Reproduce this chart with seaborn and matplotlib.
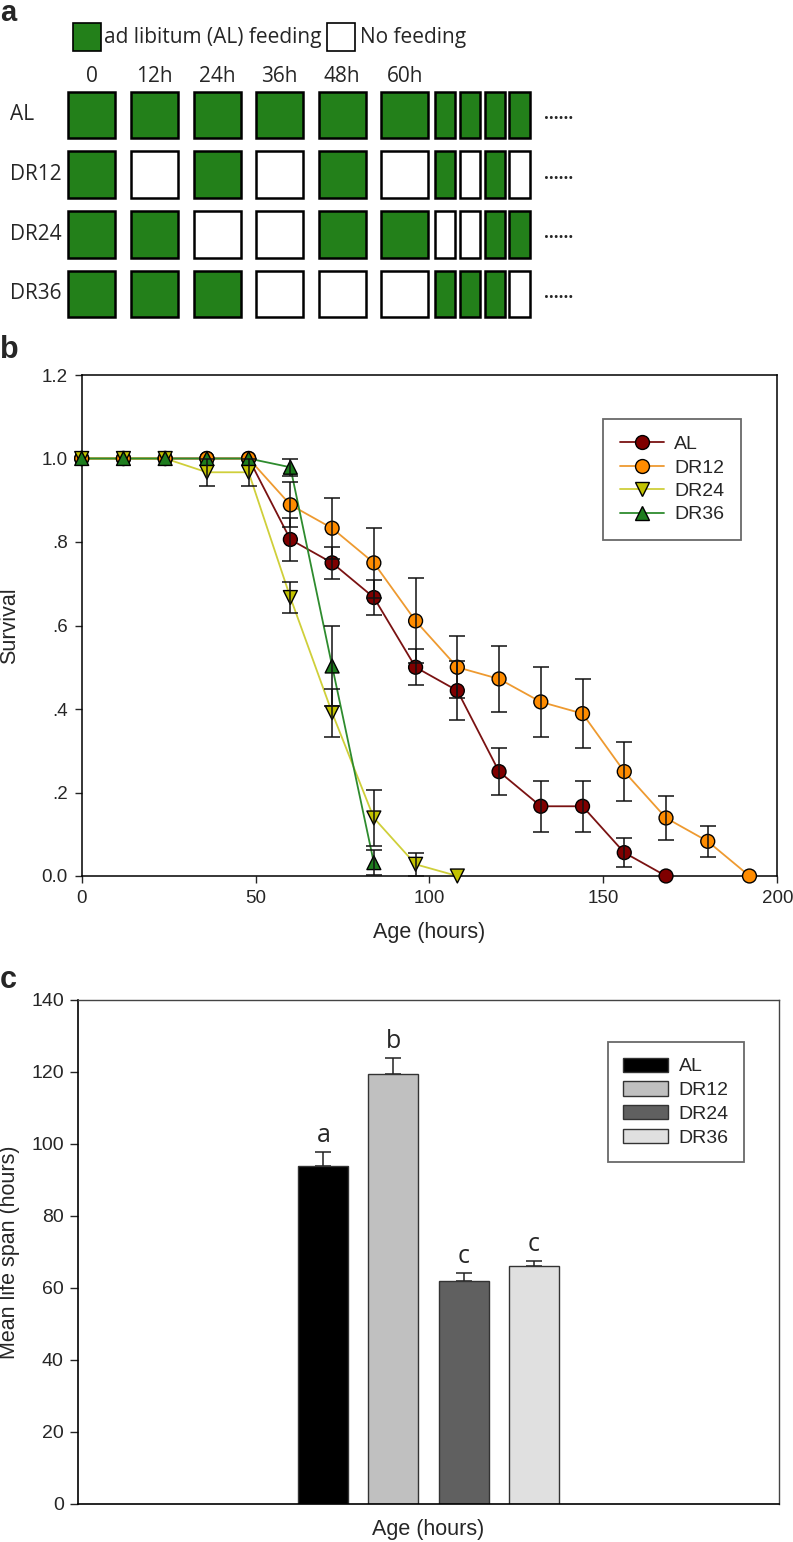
import numpy as np
import pandas as pd
import matplotlib
matplotlib.use('Agg')
import matplotlib.pyplot as plt
import seaborn as sns
from matplotlib.lines import Line2D

# ---------------- data ----------------
groups = ['AL', 'DR12', 'DR24', 'DR36']

# panel a: feeding schedule (1 = fed, 0 = not fed), 6 wide slots + 4 narrow slots
slot_labels = ['0', '12h', '24h', '36h', '48h', '60h']
schedule_AL = [1, 1, 1, 1, 1, 1, 1, 1, 1, 1]
schedule_DR12 = [1, 0, 1, 0, 1, 0, 1, 0, 1, 0]
schedule_DR24 = [1, 1, 0, 0, 1, 1, 0, 0, 1, 1]
schedule_DR36 = [1, 1, 1, 0, 0, 0, 1, 1, 1, 0]

# panel b: survival curves
age_AL = [0, 12, 24, 36, 48, 60, 72, 84, 96, 108, 120, 132, 144, 156, 168]
surv_AL = [1.0, 1.0, 1.0, 1.0, 1.0, 0.806, 0.750, 0.667, 0.500, 0.444, 0.250, 0.167, 0.167, 0.056, 0.0]
err_AL = [0, 0, 0, 0, 0, 0.051, 0.038, 0.042, 0.043, 0.070, 0.056, 0.061, 0.061, 0.035, 0]

age_DR12 = [0, 12, 24, 36, 48, 60, 72, 84, 96, 108, 120, 132, 144, 156, 168, 180, 192]
surv_DR12 = [1.0, 1.0, 1.0, 1.0, 1.0, 0.889, 0.833, 0.750, 0.611, 0.500, 0.472, 0.417, 0.389, 0.250, 0.139, 0.083, 0.0]
err_DR12 = [0, 0, 0, 0, 0, 0.054, 0.073, 0.083, 0.102, 0.074, 0.079, 0.083, 0.083, 0.070, 0.052, 0.037, 0]

age_DR24 = [0, 12, 24, 36, 48, 60, 72, 84, 96, 108]
surv_DR24 = [1.0, 1.0, 1.0, 0.967, 0.967, 0.667, 0.391, 0.139, 0.028, 0.0]
err_DR24 = [0, 0, 0, 0.033, 0.033, 0.036, 0.057, 0.068, 0.028, 0]

age_DR36 = [0, 12, 24, 36, 48, 60, 72, 84]
surv_DR36 = [1.0, 1.0, 1.0, 1.0, 1.0, 0.979, 0.503, 0.032]
err_DR36 = [0, 0, 0, 0, 0, 0.021, 0.096, 0.030]

# panel c: mean life span
lifespan_mean = [93.8, 119.4, 62.0, 66.0]
lifespan_se = [4.1, 4.6, 2.3, 1.6]
sig_letters = ['a', 'b', 'c', 'c']

# ---------------- style ----------------
sns.set_style('white')
plt.rcParams['font.family'] = ['Liberation Sans', 'DejaVu Sans']
W, H = 793, 1542
fig = plt.figure(figsize=(W / 100, H / 100), dpi=100)

green = '#23801a'
line_colors = {'AL': '#7a1212', 'DR12': '#ee9a30', 'DR24': '#cfcf3a', 'DR36': '#2e8b2e'}
fill_colors = {'AL': '#7f0000', 'DR12': '#ff8c00', 'DR24': '#c2c200', 'DR36': '#1e7d1e'}
markers = {'AL': 'o', 'DR12': 'o', 'DR24': 'v', 'DR36': '^'}
bar_colors = ['#000000', '#c0c0c0', '#606060', '#e0e0e0']
font_a = ['Open Sans', 'DejaVu Sans']

# ------------------------- PANEL A: SCHEDULE -------------------------
ax_a = fig.add_axes([0, 1 - 375 / H, 1, 375 / H])
ax_a.set_xlim(0, W)
ax_a.set_ylim(375, 0)
ax_a.axis('off')

schedules = [schedule_AL, schedule_DR12, schedule_DR24, schedule_DR36]
row_top0, row_step, row_h = 91.5, 59.7, 46.7
for r, (name, sched) in enumerate(zip(groups, schedules)):
    top = row_top0 + r * row_step
    lefts = [68.3 + i * 62.6 for i in range(6)] + [435 + j * 24.8 for j in range(4)]
    widths = [47] * 6 + [20.3] * 4
    cols = [green if s else 'white' for s in sched]
    ax_a.bar(lefts, [row_h] * len(sched), width=widths, bottom=top, align='edge',
             color=cols, edgecolor='black', linewidth=1.8)
    ax_a.text(10, top + row_h / 2, name, ha='left', va='center', fontsize=15, family=font_a)
    ax_a.text(544, top + row_h / 2 - 1, '......', ha='left', va='center', fontsize=12,
              fontweight='bold', family=font_a)

for i, lab in enumerate(slot_labels):
    ax_a.text(68.3 + 23.5 + i * 62.6, 76, lab, ha='center', va='center', fontsize=15, family=font_a)

# key
ax_a.bar([73, 327], [28, 28], width=28, bottom=23, align='edge',
         color=[green, 'white'], edgecolor='black', linewidth=1.2)
ax_a.text(104, 37, 'ad libitum (AL) feeding', ha='left', va='center', fontsize=15, family=font_a)
ax_a.text(360, 37, 'No feeding', ha='left', va='center', fontsize=15, family=font_a)
ax_a.text(0, 21, 'a', ha='left', va='baseline', fontsize=21, fontweight='bold')

# ------------------------- PANEL B: SURVIVAL -------------------------
ax_b = fig.add_axes([81.7 / W, 1 - 876 / H, (777.3 - 81.7) / W, (876 - 375) / H])

ages = [age_AL, age_DR12, age_DR24, age_DR36]
survs = [surv_AL, surv_DR12, surv_DR24, surv_DR36]
errs = [err_AL, err_DR12, err_DR24, err_DR36]
df = pd.concat([pd.DataFrame({'age': a, 'survival': s, 'se': e, 'group': g})
                for g, a, s, e in zip(groups, ages, survs, errs)], ignore_index=True)

sns.lineplot(data=df, x='age', y='survival', hue='group', palette=line_colors,
             errorbar=None, legend=False, linewidth=1.3, ax=ax_b, zorder=2, clip_on=False)
sns.scatterplot(data=df, x='age', y='survival', hue='group', style='group',
                markers=markers, palette=fill_colors, s=100, edgecolor='black',
                linewidth=1.0, legend=False, ax=ax_b, zorder=3, clip_on=False)
for g in groups:
    sub = df[(df['group'] == g) & (df['se'] > 0)]
    ax_b.errorbar(sub['age'], sub['survival'], yerr=sub['se'], fmt='none', ecolor='#111111',
                  elinewidth=1.1, capsize=5.5, capthick=1.1, zorder=4)

ax_b.set_xlim(0, 200)
ax_b.set_ylim(0, 1.2)
ax_b.set_xticks([0, 50, 100, 150, 200])
ax_b.set_yticks([0, 0.2, 0.4, 0.6, 0.8, 1.0, 1.2])
ax_b.set_yticklabels(['0.0', '.2', '.4', '.6', '.8', '1.0', '1.2'])
ax_b.tick_params(direction='out', length=5, width=1, labelsize=13.5, pad=5,
                 bottom=True, left=True)
for sp in ax_b.spines.values():
    sp.set_color('black')
    sp.set_linewidth(1.1)
ax_b.set_xlabel('Age (hours)', fontsize=15.5)
ax_b.set_ylabel('Survival', fontsize=15.5)
ax_b.xaxis.set_label_coords(0.5, -0.092)
ax_b.yaxis.set_label_coords(-0.089, 0.5)

handles = [Line2D([0], [0], color=line_colors[g], marker=markers[g], markerfacecolor=fill_colors[g],
                  markeredgecolor='black', markersize=10, linewidth=1.3) for g in groups]
leg = ax_b.legend(handles, groups, loc='upper left', bbox_to_anchor=(603 / W, 1 - 419 / H),
                  bbox_transform=fig.transFigure, borderaxespad=0, fontsize=14,
                  frameon=True, fancybox=False, handlelength=2.3, handletextpad=0.5,
                  labelspacing=0.3, borderpad=0.85)
leg.get_frame().set_edgecolor('#444444')
leg.get_frame().set_linewidth(1.3)
fig.text(0, 1 - 350 / H, 'b', ha='left', va='center', fontsize=22, fontweight='bold')

# ------------------------- PANEL C: MEAN LIFE SPAN -------------------------
ax_c = fig.add_axes([77.7 / W, 1 - 1504 / H, (779.3 - 77.7) / W, (1504 - 1000) / H])
df_c = pd.DataFrame({'group': groups, 'mean': lifespan_mean, 'se': lifespan_se})
sns.barplot(data=df_c, x='group', y='mean', hue='group', palette=bar_colors, width=0.714,
            edgecolor='#333333', linewidth=1.0, legend=True, ax=ax_c, zorder=2)
ax_c.errorbar(range(len(groups)), df_c['mean'], yerr=[np.zeros(len(groups)), df_c['se']],
              fmt='none', ecolor='#222222', elinewidth=1.1, capsize=5.5, capthick=1.1, zorder=1)
for i, (m, s, lab) in enumerate(zip(lifespan_mean, lifespan_se, sig_letters)):
    ax_c.text(i, m + s + 4.5, lab, ha='center', va='center', fontsize=18, family=font_a)

ax_c.set_xlim(-3.51, 6.51)
ax_c.set_ylim(0, 140)
ax_c.set_yticks(range(0, 141, 20))
ax_c.set_xticks([])
ax_c.tick_params(axis='y', direction='out', length=6, width=1, labelsize=14, pad=4, left=True)
for side in ['left', 'bottom']:
    ax_c.spines[side].set_color('black')
    ax_c.spines[side].set_linewidth(1.2)
for side in ['top', 'right']:
    ax_c.spines[side].set_color('#444444')
    ax_c.spines[side].set_linewidth(1.0)
ax_c.set_xlabel('Age (hours)', fontsize=15.5)
ax_c.set_ylabel('Mean life span (hours)', fontsize=15.5)
ax_c.xaxis.set_label_coords(0.5, -0.03)
ax_c.yaxis.set_label_coords(-0.082, 0.5)

h, l = ax_c.get_legend_handles_labels()
leg_c = ax_c.legend(h, l, loc='upper left', bbox_to_anchor=(607.7 / W, 1 - 1042 / H),
                    bbox_transform=fig.transFigure, borderaxespad=0, fontsize=14,
                    frameon=True, fancybox=False, handlelength=2.3, handleheight=0.75,
                    handletextpad=0.55, labelspacing=0.3, borderpad=0.8)
leg_c.get_frame().set_edgecolor('#444444')
leg_c.get_frame().set_linewidth(1.3)
fig.text(0, 1 - 980 / H, 'c', ha='left', va='center', fontsize=22, fontweight='bold')

fig.savefig('out.png', dpi=100, facecolor='white')
